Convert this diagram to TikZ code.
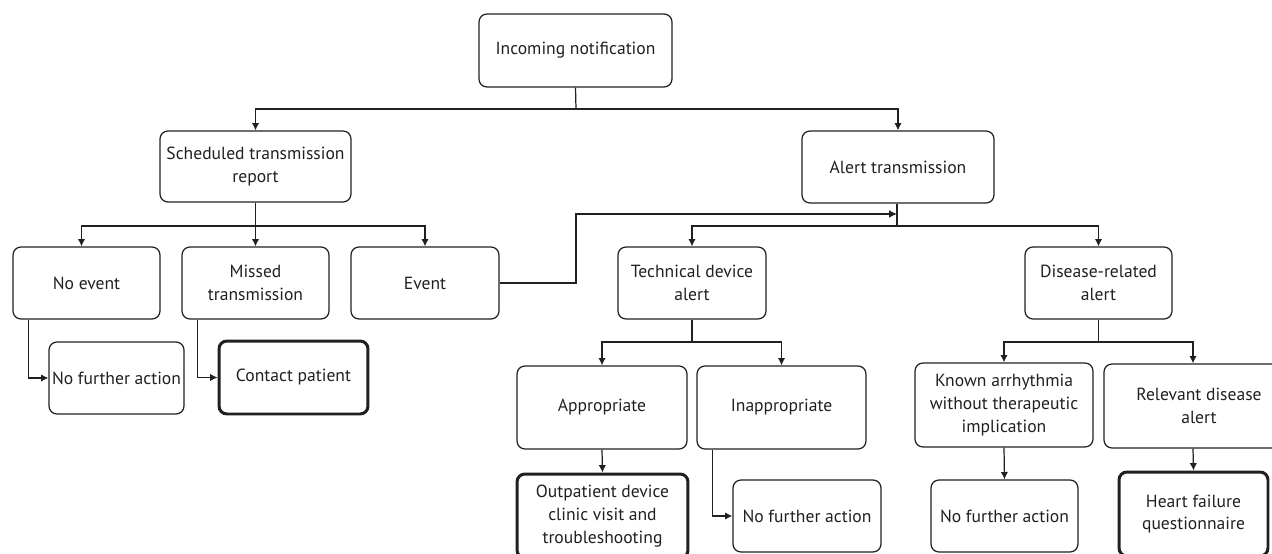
\documentclass[tikz,border=0pt]{standalone}
\usepackage{fontspec}
\setmainfont{PT Sans}
\usetikzlibrary{arrows.meta,positioning,calc}
\definecolor{fcdark}{HTML}{231F20}

\tikzset{
  box/.style={draw=fcdark,line width=0.7pt,rounded corners=4.5pt,align=center,
    text=fcdark,inner sep=0pt,font=\fontsize{10}{13}\selectfont},
  endbox/.style={box,line width=1.7pt},
  arr/.style={draw=fcdark,line width=0.7pt,-{Latex[length=4.2pt,width=4.2pt]}},
  link/.style={draw=fcdark,line width=0.7pt},
}

\begin{document}
\begin{tikzpicture}[x=0.02cm,y=-0.02cm]
  \useasboundingbox (0,0) rectangle (1272,554);

  % ---- Top level ---------------------------------------------
  \node[box,minimum width=3.86cm,minimum height=1.46cm] (inc) at (575.5,50.5) {Incoming notification};
  \node[box,minimum width=3.82cm,minimum height=1.42cm] (sched) at (255.5,166.5) {Scheduled transmission\\report};
  \node[box,minimum width=3.84cm,minimum height=1.44cm] (alert) at (898,167) {Alert transmission};

  % ---- Scheduled branch --------------------------------------
  \node[box,minimum width=2.94cm,minimum height=1.44cm] (noev) at (86.5,283) {No event};
  \node[box,minimum width=2.94cm,minimum height=1.44cm] (missed) at (255.5,283) {Missed\\transmission};
  \node[box,minimum width=2.96cm,minimum height=1.44cm] (event) at (425,283) {Event};
  \node[box,minimum width=2.70cm,minimum height=1.44cm] (nfaA) at (116.5,378) {No further action};
  \node[endbox,minimum width=2.98cm,minimum height=1.46cm] (contact) at (293.5,377.5) {Contact patient};

  % ---- Alert branch ------------------------------------------
  \node[box,minimum width=2.96cm,minimum height=1.44cm] (tech) at (692,283) {Technical device\\alert};
  \node[box,minimum width=2.94cm,minimum height=1.44cm] (dis) at (1098.5,283) {Disease-related\\alert};
  \node[box,minimum width=3.40cm,minimum height=1.66cm] (approp) at (602,407.5) {Appropriate};
  \node[box,minimum width=3.38cm,minimum height=1.66cm] (inappr) at (781.5,407.5) {Inappropriate};
  \node[box,minimum width=3.56cm,minimum height=1.68cm] (known) at (1004,405) {Known arrhythmia\\without therapeutic\\implication};
  \node[box,minimum width=3.80cm,minimum height=1.68cm] (relev) at (1199,406) {Relevant disease\\alert};

  % Outcomes
  \node[endbox,minimum width=3.42cm,minimum height=1.68cm] (outp) at (602.5,516) {Outpatient device\\clinic visit and\\troubleshooting};
  \node[box,minimum width=2.96cm,minimum height=1.44cm] (nfaB) at (807,516) {No further action};
  \node[box,minimum width=2.94cm,minimum height=1.44cm] (nfaC) at (1004.5,516) {No further action};
  \node[endbox,minimum width=2.98cm,minimum height=1.68cm] (heart) at (1193.5,514) {Heart failure\\questionnaire};

  % ---- Connectors --------------------------------------------
  \coordinate (jInc) at (576,109);
  \draw[link] (inc.south) -- (jInc);
  \draw[arr] (jInc) -| (sched.north);
  \draw[arr] (jInc) -| (alert.north);

  \coordinate (jSched) at (255.5,226);
  \draw[link] (sched.south) -- (jSched);
  \draw[arr] (jSched) -| ($(noev.north)+(-5,0)$);
  \draw[arr] (jSched) -- (missed.north);
  \draw[arr] (jSched) -| (event.north);

  \draw[arr] ($(noev.south west)+(16,0)$) |- (nfaA.west);
  \draw[arr] ($(missed.south west)+(16,0)$) |- (contact.west);

  % Event feeds into the alert branch
  \coordinate (jEvent) at (897,214);
  \draw[fcdark,line width=1.3pt,-{Latex[length=4.5pt,width=4.5pt]}]
    (event.east) -| (576,214) -- (jEvent);

  \coordinate (jAlert) at (897,226);
  \draw[link] (alert.south -| jAlert) -- (jAlert);
  \draw[arr] (jAlert) -| (tech.north);
  \draw[arr] (jAlert) -| (dis.north);

  \coordinate (jTech) at (692,342);
  \draw[link] (tech.south) -- (jTech);
  \draw[arr] (jTech) -| (approp.north);
  \draw[arr] (jTech) -| (inappr.north);

  \coordinate (jDis) at (1098.5,342);
  \draw[link] (dis.south) -- (jDis);
  \draw[arr] (jDis) -| ($(relev.north)+(-6,0)$);
  \draw[arr] (jDis) -| (known.north);
  \draw[arr] (approp.south) -- (outp.north);
  \draw[arr] ($(inappr.south west)+(16,0)$) |- (nfaB.west);
  \draw[arr] (known.south) -- (nfaC.north);
  \draw[arr] ($(relev.south)+(-6,0)$) -- (heart.north);

\end{tikzpicture}
\end{document}
